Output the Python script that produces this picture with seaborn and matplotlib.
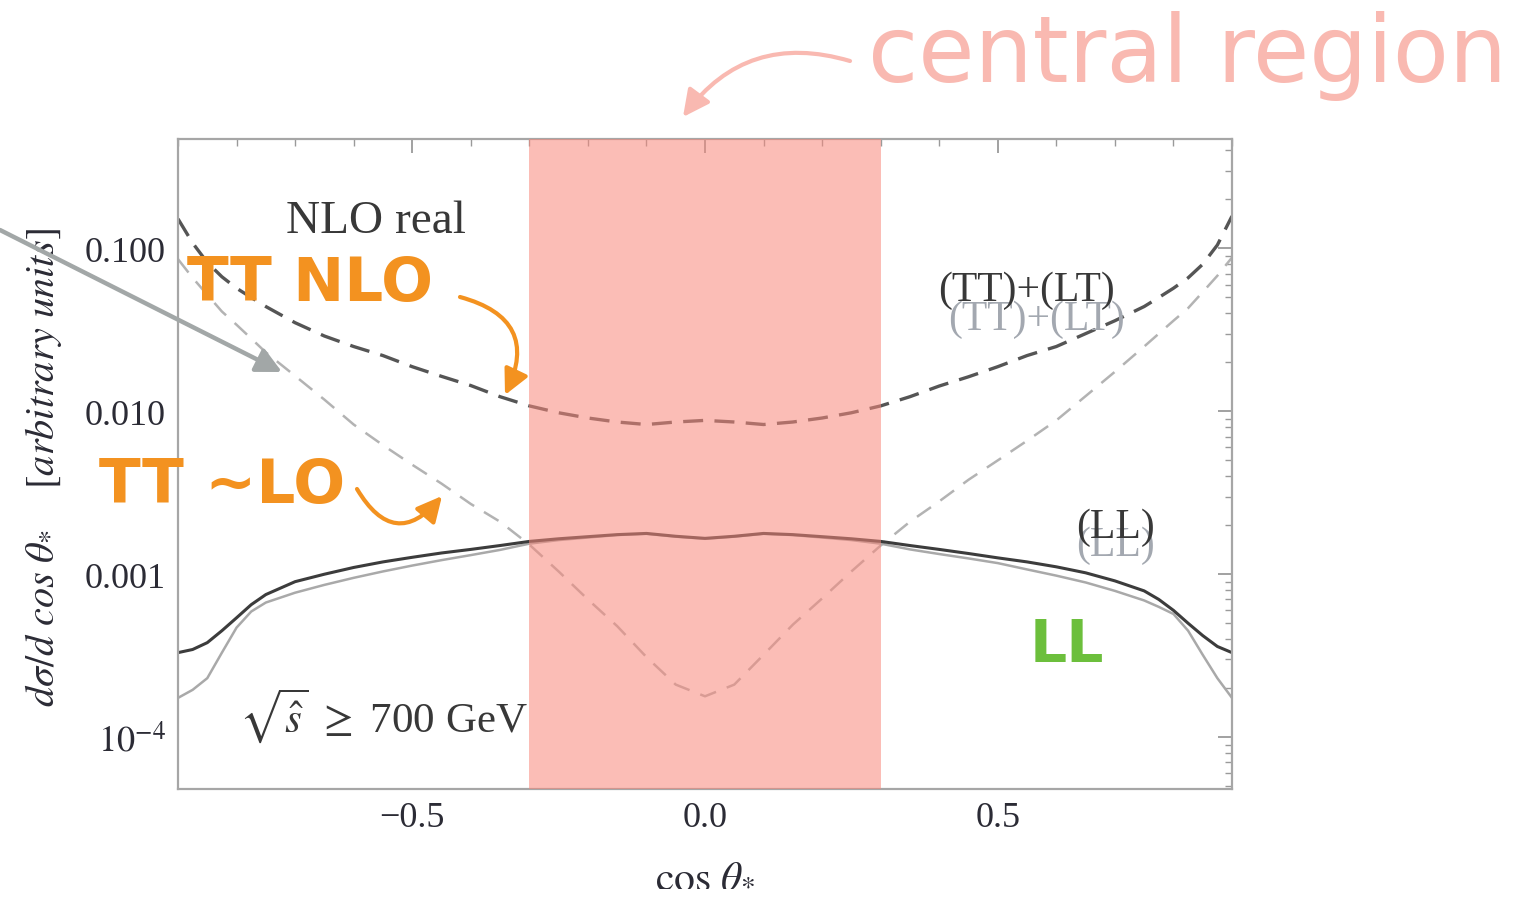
import numpy as np
import pandas as pd
import matplotlib
matplotlib.use("Agg")
import matplotlib.pyplot as plt
from matplotlib.ticker import MultipleLocator, LogLocator, NullFormatter
import seaborn as sns

# ---------------- data ----------------
cos_theta = [-0.9, -0.875, -0.85, -0.825, -0.8, -0.775, -0.75, -0.7, -0.65, -0.6, -0.55,
             -0.5, -0.45, -0.4, -0.35, -0.3, -0.25, -0.2, -0.15, -0.1, -0.05, 0.0,
             0.05, 0.1, 0.15, 0.2, 0.25, 0.3, 0.35, 0.4, 0.45, 0.5, 0.55, 0.6, 0.65,
             0.7, 0.75, 0.775, 0.8, 0.825, 0.85, 0.875, 0.9]

# (TT)+(LT), NLO real (dark dashed)
tt_lt_nlo = [0.152, 0.108, 0.082, 0.067, 0.057, 0.050, 0.044, 0.035, 0.029, 0.025, 0.022,
             0.0188, 0.0164, 0.0144, 0.0123, 0.0108, 0.0098, 0.0091, 0.0086, 0.0083, 0.0086, 0.0088,
             0.0086, 0.0083, 0.0086, 0.0091, 0.0098, 0.0108, 0.0123, 0.0143, 0.0163, 0.0188, 0.022,
             0.025, 0.030, 0.036, 0.044, 0.050, 0.057, 0.066, 0.080, 0.105, 0.158]

# (TT)+(LT), LO (light dashed)
tt_lt_lo = [0.086, 0.066, 0.052, 0.041, 0.034, 0.028, 0.023, 0.0165, 0.0118, 0.0083, 0.0062,
            0.0047, 0.0036, 0.0027, 0.0021, 0.00152, 0.00104, 0.00070, 0.00048, 0.00031, 0.00021,
            0.000178, 0.00021, 0.00032, 0.00049, 0.00071, 0.00104, 0.00150, 0.0021, 0.0028,
            0.0038, 0.0050, 0.0066, 0.0088, 0.0124, 0.0175, 0.025, 0.030, 0.036, 0.043, 0.054,
            0.068, 0.088]

# (LL), NLO real (dark solid)
ll_nlo = [3.3e-4, 3.45e-4, 3.8e-4, 4.5e-4, 5.4e-4, 6.5e-4, 7.5e-4, 9.0e-4, 1.0e-3, 1.1e-3, 1.19e-3,
          1.27e-3, 1.35e-3, 1.42e-3, 1.5e-3, 1.59e-3, 1.65e-3, 1.7e-3, 1.75e-3, 1.78e-3, 1.71e-3,
          1.66e-3, 1.71e-3, 1.78e-3, 1.75e-3, 1.7e-3, 1.65e-3, 1.59e-3, 1.5e-3, 1.42e-3, 1.34e-3,
          1.26e-3, 1.19e-3, 1.11e-3, 1.02e-3, 9.1e-4, 7.9e-4, 7.0e-4, 6.0e-4, 5.0e-4, 4.2e-4,
          3.6e-4, 3.3e-4]

# (LL), LO (light solid)
ll_lo = [1.74e-4, 1.95e-4, 2.3e-4, 3.3e-4, 4.7e-4, 5.9e-4, 6.7e-4, 7.7e-4, 8.6e-4, 9.5e-4, 1.04e-3,
         1.13e-3, 1.22e-3, 1.31e-3, 1.41e-3, 1.54e-3, 1.62e-3, 1.68e-3, 1.74e-3, 1.77e-3, 1.70e-3,
         1.65e-3, 1.70e-3, 1.77e-3, 1.74e-3, 1.68e-3, 1.62e-3, 1.54e-3, 1.42e-3, 1.33e-3, 1.25e-3,
         1.17e-3, 1.07e-3, 9.8e-4, 8.9e-4, 7.9e-4, 6.9e-4, 6.3e-4, 5.7e-4, 4.5e-4, 3.2e-4,
         2.3e-4, 1.74e-4]

central_region = [-0.3, 0.3]
x_major_ticks = [-0.5, 0.0, 0.5]
x_tick_labels = ["\u22120.5", "0.0", "0.5"]
y_major_ticks = [1e-4, 1e-3, 1e-2, 1e-1]
y_tick_labels = [r"$10^{-4}$", "0.001", "0.010", "0.100"]

# ---------------- style ----------------
sns.set_theme(style="white")
plt.rcParams["font.family"] = ["Liberation Serif", "DejaVu Serif", "DejaVu Sans"]
plt.rcParams["mathtext.fontset"] = "stix"

W, H = 1531, 903
fig = plt.figure(figsize=(W / 100, H / 100), dpi=100)
ax = fig.add_axes([178 / W, 1 - 790 / H, (1232 - 178) / W, (790 - 140) / H])


def px(x, y):
    """pixel position (from top-left) -> figure fraction"""
    return (x / W, 1 - y / H)


df = pd.DataFrame({"cos": cos_theta, "tt_lt_nlo": tt_lt_nlo, "tt_lt_lo": tt_lt_lo,
                   "ll_nlo": ll_nlo, "ll_lo": ll_lo})

series = [
    ("tt_lt_lo", "#b3b3b3", 1.8, (0, (6.8, 4.6))),
    ("ll_lo", "#a9a9a9", 1.8, "-"),
    ("tt_lt_nlo", "#555555", 2.4, (0, (6.0, 3.4))),
    ("ll_nlo", "#3c3c3c", 2.2, "-"),
]
for col, color, lw, ls in series:
    sns.lineplot(data=df, x="cos", y=col, ax=ax, color=color, linewidth=lw,
                 linestyle=ls, errorbar=None, estimator=None, sort=False)

ax.set_yscale("log")
ax.set_xlim(-0.9, 0.9)
ax.set_ylim(4.8e-5, 0.47)

# central region band (drawn over the curves, semi transparent)
ax.axvspan(central_region[0], central_region[1], color="#f8887b", alpha=0.55, lw=0, zorder=3)

# ticks
ax.set_xticks(x_major_ticks)
ax.set_xticklabels(x_tick_labels)
ax.xaxis.set_minor_locator(MultipleLocator(0.1))
ax.set_yticks(y_major_ticks)
ax.set_yticklabels(y_tick_labels)
ax.yaxis.set_minor_locator(LogLocator(base=10, subs=np.arange(2, 10), numticks=50))
ax.yaxis.set_minor_formatter(NullFormatter())
ax.tick_params(which="both", direction="in", top=True, right=True, color="#9a9a9a")
ax.tick_params(which="major", length=10, width=1.3, labelsize=26, labelcolor="#2b2b35", pad=9)
ax.tick_params(which="minor", length=5, width=1.0)
for s in ax.spines.values():
    s.set_color("#a6a6a6")
    s.set_linewidth(1.6)

ax.set_xlabel("")
fig.text(*px(705, 876), r"$\mathrm{cos}\ \theta_{*}$", fontsize=30, color="#2b2b35",
         ha="center", va="center")
ax.set_ylabel(r"$d\sigma/d\ cos\ \theta_{*}\quad\ [arbitrary\ units]$", fontsize=29, color="#2b2b35")
ax.yaxis.set_label_coords(-0.108, 0.497)

# in-plot labels
dark_txt = "#383838"
light_txt = "#a3a8b0"
fig.text(*px(376, 222), "NLO real", fontsize=34, color=dark_txt, ha="center", va="center")
fig.text(*px(1037, 320), "(TT)+(LT)", fontsize=30, color=light_txt, ha="center", va="center")
fig.text(*px(1027, 291), "(TT)+(LT)", fontsize=30, color=dark_txt, ha="center", va="center")
fig.text(*px(1115, 546), "(LL)", fontsize=30, color=light_txt, ha="center", va="center")
fig.text(*px(1115, 528), "(LL)", fontsize=30, color=dark_txt, ha="center", va="center")
fig.text(*px(383, 716), r"$\sqrt{\hat{s}}$ $\geq$ 700 GeV", fontsize=31, color=dark_txt,
         ha="center", va="center")

# hand-drawn style annotations
orange = "#f39220"
hand = ["DejaVu Sans"]
fig.text(*px(310, 285), "TT NLO", fontsize=44, color=orange, fontweight="bold",
         family=hand, ha="center", va="center")
fig.text(*px(222, 487), "TT ~LO", fontsize=44, color=orange, fontweight="bold",
         family=hand, ha="center", va="center")
fig.text(*px(1067, 645), "LL", fontsize=42, color="#6cbf3c", fontweight="bold",
         family=hand, ha="center", va="center")
fig.text(*px(1188, 56), "central region", fontsize=66, color="#f9b9b1",
         family=hand, ha="center", va="center")

arrow_specs = [
    (px(0, 231), px(282, 373), "#a2a7a7", "arc3,rad=0", 3.2, 38),
    (px(850, 62), px(683, 118), "#f9b9b1", "arc3,rad=0.35", 3.0, 40),
    (px(460, 298), px(505, 396), orange, "arc3,rad=-0.6", 3.0, 38),
    (px(357, 490), px(442, 497), orange, "arc3,rad=0.7", 3.0, 38),
]
for tail, head, color, cs, lw, ms in arrow_specs:
    ax.annotate("", xy=head, xytext=tail, xycoords="figure fraction",
                textcoords="figure fraction", annotation_clip=False,
                arrowprops=dict(arrowstyle="-|>", color=color, lw=lw, mutation_scale=ms,
                                connectionstyle=cs, shrinkA=0, shrinkB=0), zorder=10)

fig.savefig("out.png", dpi=100, facecolor="white")
